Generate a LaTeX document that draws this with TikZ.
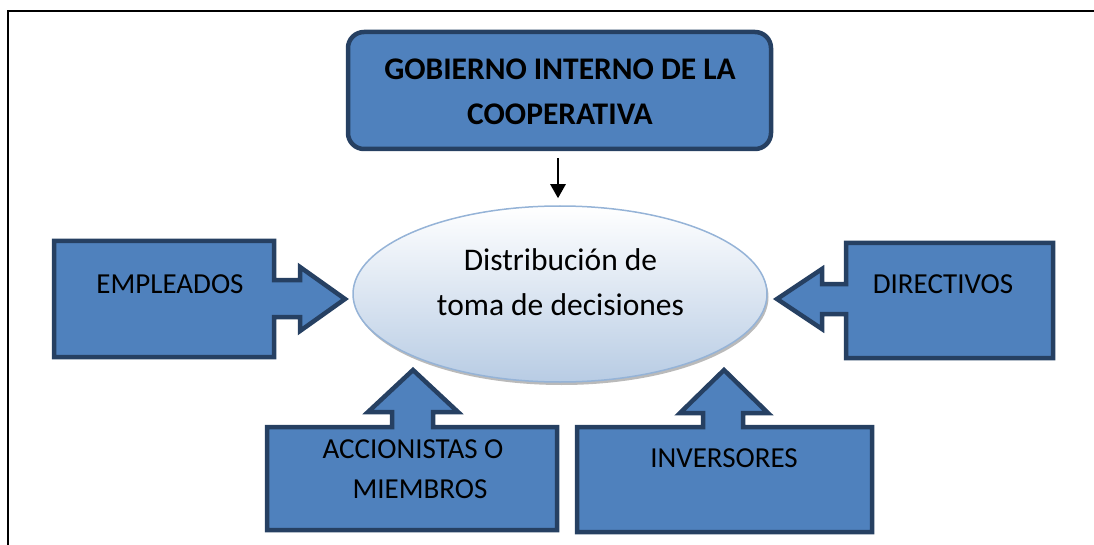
\documentclass[tikz,border=0pt]{standalone}
\usepackage{fontspec}
\setmainfont{Carlito}
\usetikzlibrary{shapes.geometric,shadows,arrows.meta}
\definecolor{boxfill}{RGB}{79,129,189}
\definecolor{boxline}{RGB}{38,64,98}
\definecolor{ellline}{RGB}{149,179,215}
\definecolor{ellbot}{RGB}{184,204,228}
\tikzset{
  callout/.style={fill=boxfill,draw=boxline,line width=4.5pt,line join=miter},
  lbl/.style={anchor=base,inner sep=0pt,font=\fontsize{29}{29}\selectfont},
  ellbl/.style={anchor=base,inner sep=0pt,font=\fontsize{31.5}{31.5}\selectfont},
  titlelbl/.style={anchor=base,inner sep=0pt,font=\bfseries\fontsize{31.5}{31.5}\selectfont},
}
\begin{document}
\begin{tikzpicture}[x=1pt,y=-1pt]
\useasboundingbox (0,0) rectangle (1094,545);
% frame
\draw[line width=2.2pt] (8,545) -- (8,11) -- (1094,11);
% title box
\node[draw=boxline,fill=boxfill,line width=4.5pt,rounded corners=16pt,minimum width=423pt,minimum height=117pt,inner sep=0pt] (title) at (559.5,90.5) {};
\node[titlelbl] (t1) at (560,80) {GOBIERNO INTERNO DE LA};
\node[titlelbl] (t2) at (560,125) {COOPERATIVA};
% ellipse
\node[ellipse,draw=ellline,line width=1.5pt,top color=white,bottom color=ellbot,minimum width=414pt,minimum height=176pt,inner sep=0pt,
      drop shadow={shadow xshift=1.5pt,shadow yshift=-3pt,opacity=0.45,fill=black!60}] (ell) at (560,294) {};
\node[ellbl] (e1) at (560.5,270) {Distribución de};
\node[ellbl] (e2) at (560.5,315) {toma de decisiones};
% arrow title -> ellipse
\draw[line width=2.5pt,-{Triangle[length=14pt,width=15pt]},shorten <=7pt,shorten >=7pt] (title.south -| 558,0) -- (ell.north -| 558,0);
% EMPLEADOS
\draw[callout] (54,241) -- (274,241) -- (274,280) -- (300,280) -- (300,267) -- (345,299) coordinate (emptip) -- (300,331) -- (300,317) -- (274,317) -- (274,357) -- (54,357) -- cycle;
\node[lbl] (emp) at (170,293) {EMPLEADOS};
% DIRECTIVOS
\draw[callout] (1053,243) -- (846,243) -- (846,284) -- (822,284) -- (822,269) -- (777,299) coordinate (dirtip) -- (822,329) -- (822,314) -- (846,314) -- (846,358) -- (1053,358) -- cycle;
\node[lbl] (dir) at (943,293) {DIRECTIVOS};
% ACCIONISTAS
\draw[callout] (267,530) -- (267,427) -- (392,427) -- (392,412) -- (368,412) -- (413,370) coordinate (acctip) -- (458,412) -- (433,412) -- (433,427) -- (557,427) -- (557,530) -- cycle;
\node[lbl] (acc1) at (413,458) {ACCIONISTAS O};
\node[lbl] (acc2) at (420,498) {MIEMBROS};
% INVERSORES
\draw[callout] (577,532) -- (577,427) -- (703,427) -- (703,413) -- (680,413) -- (724,370) coordinate (invtip) -- (768,413) -- (743,413) -- (743,427) -- (872,427) -- (872,532) -- cycle;
\node[lbl] (inv) at (724,467) {INVERSORES};
\end{tikzpicture}
\end{document}
